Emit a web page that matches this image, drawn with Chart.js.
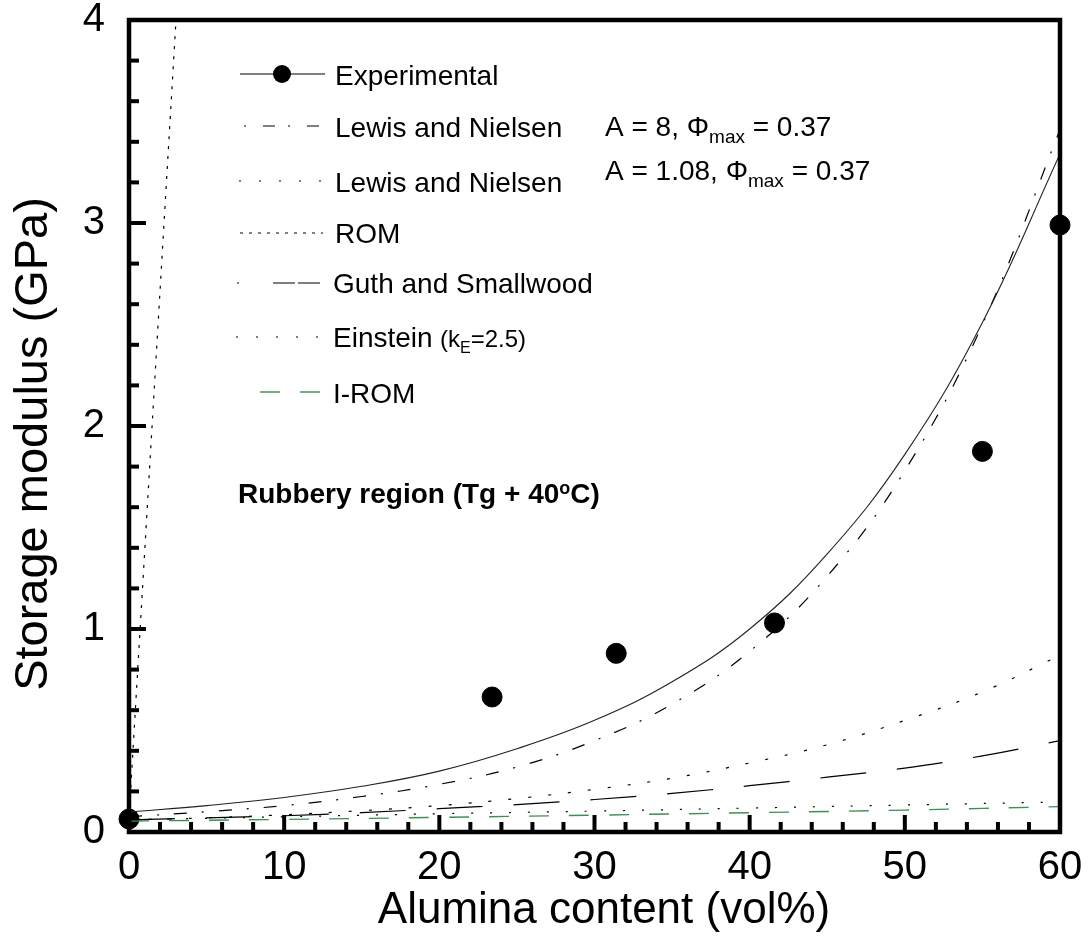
<!DOCTYPE html>
<html>
<head>
<meta charset="utf-8">
<script src="https://cdn.jsdelivr.net/npm/chart.js@4/dist/chart.umd.min.js"></script>
<style>
  html, body { margin: 0; padding: 0; background: #fff; }
  #wrap { width: 1090px; height: 936px; }
</style>
</head>
<body>
<div id="wrap"><canvas id="c" width="1090" height="936"></canvas></div>
<script>
const FONT = "'Liberation Sans', Arial, sans-serif";

// Alumina content (vol%) grid for the model curves
const contentGrid = [0, 5, 10, 15, 20, 25, 30, 35, 40, 45, 50, 55, 60];
// Storage modulus (GPa) on that grid
const trendModulus      = [0.098, 0.13, 0.17, 0.225, 0.30, 0.41, 0.55, 0.74, 1.00, 1.37, 1.86, 2.51, 3.34];
const lewisNielsenA8    = [0.075, 0.10, 0.13, 0.175, 0.235, 0.32, 0.45, 0.63, 0.89, 1.26, 1.78, 2.50, 3.46];
const lewisNielsenA108  = [0.060, 0.07, 0.085, 0.105, 0.13, 0.165, 0.21, 0.265, 0.34, 0.43, 0.55, 0.69, 0.87];
const guthSmallwood     = [0.060, 0.07, 0.08, 0.095, 0.115, 0.135, 0.16, 0.19, 0.228, 0.27, 0.315, 0.375, 0.45];

const linearGrid = [0, 10, 20, 30, 40, 50, 60];
const einstein   = [0.060, 0.075, 0.090, 0.103, 0.118, 0.133, 0.148];
const iRom       = [0.054, 0.062, 0.072, 0.083, 0.095, 0.108, 0.125];

const romContent = [0, 4];
const rom        = [0.07, 5.26];

// Measured points
const expContent = [0, 23.4, 31.4, 41.6, 55, 60];
const expModulus = [0.064, 0.665, 0.88, 1.03, 1.875, 2.99];

// Labelled tick values
const xTickValues = [0, 10, 20, 30, 40, 50, 60];
const yTickValues = [0, 1, 2, 3, 4];

const pairs = (xs, ys) => xs.map((x, i) => ({ x: x, y: ys[i] }));

const lineStyle = (label, xs, ys, dash, color, width) => ({
  label: label,
  data: pairs(xs, ys),
  borderColor: color,
  borderWidth: width,
  borderDash: dash,
  pointRadius: 0,
  fill: false,
  tension: 0.4,
  showLine: true
});

const isLabelled = (list, v) => list.some(t => Math.abs(t - v) < 1e-6);

// Frame, inward ticks, titles, key and notes
const decorations = {
  id: 'decorations',
  afterDatasetsDraw(chart) {
    const ctx = chart.ctx;
    const a = chart.chartArea;
    const xs = chart.scales.x, ys = chart.scales.y;
    ctx.save();
    ctx.strokeStyle = '#000';
    ctx.lineCap = 'butt';
    ctx.setLineDash([]);

    // inward ticks
    ctx.lineWidth = 4;
    xs.ticks.forEach(t => {
      const px = xs.getPixelForValue(t.value);
      const len = isLabelled(xTickValues, t.value) ? 17 : 10;
      ctx.beginPath(); ctx.moveTo(px, a.bottom); ctx.lineTo(px, a.bottom - len); ctx.stroke();
    });
    ys.ticks.forEach(t => {
      const py = ys.getPixelForValue(t.value);
      const len = isLabelled(yTickValues, t.value) ? 17 : 10;
      ctx.beginPath(); ctx.moveTo(a.left, py); ctx.lineTo(a.left + len, py); ctx.stroke();
    });

    // frame
    ctx.lineWidth = 4.5;
    ctx.strokeRect(a.left, a.top, a.right - a.left, a.bottom - a.top);
    ctx.restore();
  },
  afterDraw(chart) {
    const ctx = chart.ctx;
    ctx.save();
    ctx.fillStyle = '#000';
    ctx.textAlign = 'left';
    ctx.textBaseline = 'alphabetic';

    // axis titles
    ctx.textAlign = 'center';
    ctx.font = '44px ' + FONT;
    ctx.fillText('Alumina content (vol%)', 604, 923);
    ctx.save();
    ctx.translate(47, 444);
    ctx.rotate(-Math.PI / 2);
    ctx.font = '47px ' + FONT;
    ctx.fillText('Storage modulus (GPa)', 0, 0);
    ctx.restore();
    ctx.textAlign = 'left';

    // key samples
    const sample = (x1, x2, y, dash, color, width) => {
      ctx.save();
      ctx.strokeStyle = color; ctx.lineWidth = width; ctx.setLineDash(dash);
      ctx.beginPath(); ctx.moveTo(x1, y); ctx.lineTo(x2, y); ctx.stroke();
      ctx.restore();
    };
    sample(240, 325, 74, [], '#000', 1.2);
    ctx.beginPath(); ctx.arc(282, 74, 9, 0, Math.PI * 2); ctx.fill();
    sample(244, 320, 126, [2, 17, 12, 13], '#000', 1.2);
    sample(239, 322, 181, [2, 18], '#000', 1.2);
    sample(240, 323, 233, [3, 6], '#000', 1.2);
    sample(237, 239, 283, [], '#000', 1.2);
    sample(273, 320, 283, [22, 3, 22], '#000', 1.2);
    sample(236, 320, 337, [2, 18], '#000', 1.2);
    sample(260, 320, 392, [20, 20], '#3f8f4f', 1.4);

    ctx.font = '28px ' + FONT;
    ctx.fillText('Experimental', 335, 85);
    ctx.fillText('Lewis and Nielsen', 335, 137);
    ctx.fillText('Lewis and Nielsen', 335, 192);
    ctx.fillText('ROM', 335, 243);
    ctx.fillText('Guth and Smallwood', 333, 293);
    ctx.fillText('Einstein', 333, 347);
    ctx.font = '24px ' + FONT;
    let ex = 440;
    ctx.fillText('(k', ex, 347); ex += ctx.measureText('(k').width;
    ctx.font = '16px ' + FONT;
    ctx.fillText('E', ex, 353); ex += ctx.measureText('E').width;
    ctx.font = '24px ' + FONT;
    ctx.fillText('=2.5)', ex, 347);
    ctx.font = '28px ' + FONT;
    ctx.fillText('I-ROM', 333, 403);

    // model parameters
    const paramLine = (a, y) => {
      let px = 605;
      ctx.font = '28px ' + FONT;
      const head = 'A = ' + a + ', \u03A6';
      ctx.fillText(head, px, y); px += ctx.measureText(head).width;
      ctx.font = '19px ' + FONT;
      ctx.fillText('max', px, y + 7); px += ctx.measureText('max').width;
      ctx.font = '28px ' + FONT;
      ctx.fillText(' = 0.37', px, y);
    };
    paramLine('8', 136);
    paramLine('1.08', 180);

    // temperature note
    let rx = 238;
    ctx.font = 'bold 28px ' + FONT;
    const r1 = 'Rubbery region (Tg + 40';
    ctx.fillText(r1, rx, 503); rx += ctx.measureText(r1).width;
    ctx.font = 'bold 18px ' + FONT;
    ctx.fillText('o', rx, 494); rx += ctx.measureText('o').width;
    ctx.font = 'bold 28px ' + FONT;
    ctx.fillText('C)', rx, 503);
    ctx.restore();
  }
};

new Chart(document.getElementById('c'), {
  type: 'scatter',
  data: {
    datasets: [
      lineStyle('ROM', romContent, rom, [3, 7], '#000', 1.2),
      lineStyle('Experimental trend', contentGrid, trendModulus, [], '#222', 1.1),
      lineStyle('Lewis and Nielsen A = 8', contentGrid, lewisNielsenA8, [13, 15, 2, 15], '#000', 1.2),
      lineStyle('Lewis and Nielsen A = 1.08', contentGrid, lewisNielsenA108, [3, 17], '#000', 1.2),
      lineStyle('Guth and Smallwood', contentGrid, guthSmallwood, [46, 31], '#000', 1.2),
      lineStyle('Einstein', linearGrid, einstein, [2, 17], '#000', 1.2),
      lineStyle('I-ROM', linearGrid, iRom, [20, 20], '#3f8f4f', 1.4),
      {
        label: 'Experimental',
        data: pairs(expContent, expModulus),
        showLine: false,
        pointRadius: 10,
        pointHoverRadius: 10,
        pointBackgroundColor: '#000',
        pointBorderColor: '#000',
        clip: false
      }
    ]
  },
  options: {
    responsive: false,
    animation: false,
    devicePixelRatio: 1,
    layout: { padding: { top: 20, right: 30, left: 0, bottom: 0 } },
    plugins: { legend: { display: false }, tooltip: { enabled: false } },
    scales: {
      x: {
        type: 'linear', min: 0, max: 60,
        afterFit(s) { s.height = 104; s.paddingLeft = 0; s.paddingRight = 0; },
        border: { display: false },
        grid: { display: false, drawTicks: false },
        ticks: {
          stepSize: 2, autoSkip: false, maxRotation: 0, padding: 12,
          color: '#000', font: { family: FONT, size: 40 },
          callback: v => isLabelled(xTickValues, v) ? String(Math.round(v)) : ''
        }
      },
      y: {
        type: 'linear', min: 0, max: 4,
        afterFit(s) { s.width = 129; s.paddingTop = 0; s.paddingBottom = 0; },
        border: { display: false },
        grid: { display: false, drawTicks: false },
        ticks: {
          stepSize: 0.2, autoSkip: false, padding: 24,
          color: '#000', font: { family: FONT, size: 40 },
          callback: v => isLabelled(yTickValues, v) ? String(Math.round(v)) : ''
        }
      }
    }
  },
  plugins: [decorations]
});
</script>
</body>
</html>
